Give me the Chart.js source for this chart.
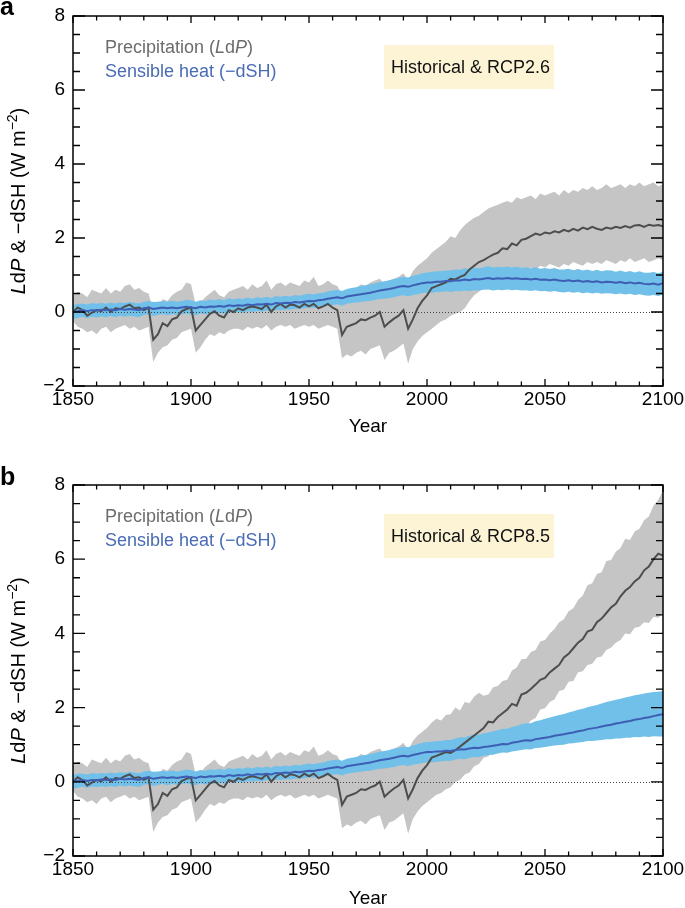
<!DOCTYPE html>
<html>
<head>
<meta charset="utf-8">
<script src="https://cdn.jsdelivr.net/npm/chart.js@4.4.1/dist/chart.umd.min.js"></script>
<style>
  body { margin: 0; background: #fff; }
  canvas { position: absolute; left: 0; }
</style>
</head>
<body>
<canvas id="chartA" width="685" height="454" style="top:0"></canvas>
<canvas id="chartB" width="685" height="454" style="top:454px"></canvas>
<script>
// years every 2 yr, 1850..2100 (historical up to 2004, scenario from 2006)
const years = [];
for (let y = 1850; y <= 2100; y += 2) years.push(y);

const yTicks = [-2, 0, 2, 4, 6, 8];
const xTicks = [1850, 1900, 1950, 2000, 2050, 2100];

// historical, shared by both panels (1850-2004)
const histP = [
  0.00, 0.12, 0.05, -0.10, -0.02, 0.05, 0.02, 0.12, 0.00, 0.10,
  0.08, 0.15, 0.20, 0.10, 0.12, 0.05, 0.12, -0.75, -0.60, -0.30,
  -0.38, -0.20, -0.15, 0.02, 0.08, 0.12, -0.50, -0.35, -0.20, -0.05,
  0.02, -0.10, -0.15, 0.05, 0.00, 0.10, 0.05, 0.12, 0.15, 0.12,
  0.08, 0.20, 0.00, 0.15, 0.22, 0.12, 0.20, 0.18, 0.12, 0.22,
  0.15, 0.22, 0.10, 0.15, 0.22, 0.12, 0.05, -0.62, -0.40, -0.35,
  -0.30, -0.20, -0.22, -0.15, -0.10, 0.00, -0.40, -0.28, -0.18, -0.10,
  0.05, -0.45, -0.20, 0.10, 0.30, 0.45, 0.65, 0.70
];
const histPHi = [
  0.45, 0.55, 0.50, 0.40, 0.60, 0.55, 0.50, 0.65, 0.50, 0.60,
  0.55, 0.70, 0.75, 0.60, 0.65, 0.55, 0.50, 0.05, 0.10, 0.35,
  0.30, 0.45, 0.55, 0.60, 0.80, 0.75, 0.20, 0.25, 0.40, 0.50,
  0.60, 0.45, 0.40, 0.55, 0.60, 0.65, 0.70, 0.60, 0.75, 0.65,
  0.70, 0.85, 0.60, 0.75, 0.80, 0.70, 0.80, 0.75, 0.70, 0.85,
  0.80, 0.95, 0.70, 0.75, 0.85, 0.75, 0.70, 0.45, 0.55, 0.60,
  0.65, 0.75, 0.70, 0.80, 0.85, 0.90, 0.75, 0.85, 0.90, 0.95,
  1.05, 0.85, 1.10, 1.25, 1.35, 1.45, 1.60, 1.70
];
const histPLo = [
  -0.25, -0.40, -0.45, -0.55, -0.50, -0.60, -0.45, -0.40, -0.55, -0.45,
  -0.40, -0.35, -0.45, -0.40, -0.50, -0.45, -0.40, -1.35, -1.10, -0.95,
  -0.90, -0.75, -0.70, -0.55, -0.50, -0.45, -1.10, -0.95, -0.75, -0.60,
  -0.65, -0.55, -0.60, -0.50, -0.45, -0.45, -0.50, -0.40, -0.45, -0.40,
  -0.45, -0.35, -0.50, -0.40, -0.35, -0.40, -0.35, -0.45, -0.40, -0.35,
  -0.40, -0.35, -0.45, -0.40, -0.35, -0.40, -0.45, -1.25, -1.15, -1.20,
  -1.10, -1.05, -1.15, -1.00, -0.95, -0.90, -1.30, -1.10, -1.05, -0.95,
  -0.85, -1.40, -1.00, -0.80, -0.65, -0.55, -0.45, -0.35
];
const histSH = [
  0.00, 0.02, 0.05, 0.02, 0.05, 0.04, 0.06, 0.05, 0.07, 0.05,
  0.08, 0.06, 0.08, 0.07, 0.05, 0.10, 0.12, 0.08, 0.10, 0.12,
  0.10, 0.12, 0.10, 0.12, 0.14, 0.12, 0.10, 0.14, 0.12, 0.15,
  0.14, 0.16, 0.14, 0.18, 0.16, 0.18, 0.17, 0.20, 0.18, 0.21,
  0.20, 0.22, 0.20, 0.24, 0.23, 0.25, 0.24, 0.27, 0.26, 0.28,
  0.30, 0.29, 0.32, 0.33, 0.36, 0.38, 0.40, 0.37, 0.42, 0.44,
  0.46, 0.48, 0.50, 0.52, 0.55, 0.58, 0.60, 0.62, 0.65, 0.68,
  0.70, 0.68, 0.72, 0.75, 0.78, 0.80, 0.80, 0.82
];
const histSHHi = [
  0.18, 0.22, 0.22, 0.20, 0.24, 0.22, 0.24, 0.22, 0.25, 0.23,
  0.26, 0.24, 0.27, 0.25, 0.23, 0.28, 0.30, 0.27, 0.28, 0.30,
  0.28, 0.31, 0.28, 0.30, 0.33, 0.31, 0.28, 0.32, 0.30, 0.34,
  0.32, 0.35, 0.32, 0.37, 0.34, 0.37, 0.35, 0.39, 0.36, 0.40,
  0.38, 0.41, 0.38, 0.43, 0.41, 0.44, 0.42, 0.46, 0.44, 0.47,
  0.49, 0.47, 0.51, 0.52, 0.56, 0.58, 0.60, 0.57, 0.62, 0.65,
  0.67, 0.70, 0.72, 0.75, 0.78, 0.81, 0.83, 0.86, 0.89, 0.92,
  0.95, 0.93, 0.98, 1.01, 1.05, 1.07, 1.08, 1.10
];
const histSHLo = [
  -0.18, -0.16, -0.13, -0.17, -0.13, -0.15, -0.12, -0.14, -0.11, -0.14,
  -0.10, -0.13, -0.10, -0.12, -0.14, -0.08, -0.06, -0.11, -0.08, -0.06,
  -0.09, -0.06, -0.08, -0.06, -0.04, -0.07, -0.09, -0.04, -0.07, -0.03,
  -0.05, -0.02, -0.05, 0.00, -0.03, 0.00, -0.02, 0.02, 0.00, 0.03,
  0.01, 0.04, 0.02, 0.06, 0.05, 0.07, 0.06, 0.09, 0.08, 0.10,
  0.12, 0.11, 0.14, 0.15, 0.17, 0.19, 0.21, 0.17, 0.22, 0.24,
  0.26, 0.27, 0.29, 0.30, 0.33, 0.35, 0.36, 0.38, 0.40, 0.43,
  0.45, 0.42, 0.46, 0.48, 0.51, 0.53, 0.52, 0.54
];

// RCP2.6 (2006-2100)
const rcp26P = [
  0.75, 0.80, 0.90, 0.88, 0.95, 1.00, 1.15, 1.25,
  1.35, 1.40, 1.48, 1.55, 1.60, 1.72, 1.70, 1.85,
  1.80, 1.95, 1.98, 2.05, 2.12, 2.08, 2.15, 2.12,
  2.18, 2.15, 2.22, 2.18, 2.25, 2.20, 2.28, 2.24,
  2.30, 2.25, 2.22, 2.28, 2.25, 2.30, 2.27, 2.32,
  2.28, 2.34, 2.35, 2.30, 2.36, 2.33, 2.35, 2.32
];
const rcp26PHi = [
  1.80, 1.90, 2.05, 2.00, 2.20, 2.35, 2.45, 2.55,
  2.60, 2.70, 2.80, 2.85, 2.90, 2.95, 3.00, 2.95,
  3.10, 3.05, 3.10, 3.15, 3.05, 3.20, 3.15, 3.20,
  3.25, 3.15, 3.30, 3.20, 3.30, 3.25, 3.35, 3.30,
  3.40, 3.30, 3.35, 3.45, 3.35, 3.40, 3.45, 3.35,
  3.45, 3.40, 3.50, 3.40, 3.45, 3.50, 3.40, 3.45
];
const rcp26PLo = [
  -0.25, -0.20, -0.10, -0.05, 0.00, 0.10, 0.30, 0.45,
  0.55, 0.65, 0.75, 0.85, 0.90, 0.95, 1.05, 1.10,
  1.05, 1.15, 1.10, 1.20, 1.15, 1.25, 1.20, 1.30,
  1.25, 1.20, 1.30, 1.25, 1.35, 1.30, 1.25, 1.35,
  1.30, 1.35, 1.30, 1.40, 1.35, 1.30, 1.40, 1.35,
  1.45, 1.35, 1.40, 1.45, 1.35, 1.40, 1.45, 1.40
];
const rcp26SH = [
  0.82, 0.84, 0.83, 0.86, 0.85, 0.88, 0.86, 0.89,
  0.88, 0.90, 0.92, 0.89, 0.91, 0.90, 0.92, 0.90,
  0.91, 0.89, 0.90, 0.88, 0.90, 0.87, 0.88, 0.86,
  0.88, 0.85, 0.84, 0.86, 0.83, 0.85, 0.82, 0.84,
  0.81, 0.83, 0.80, 0.82, 0.81, 0.79, 0.81, 0.78,
  0.80, 0.77, 0.79, 0.76, 0.75, 0.77, 0.74, 0.78
];
const rcp26SHHi = [
  1.10, 1.12, 1.12, 1.15, 1.14, 1.18, 1.16, 1.20,
  1.18, 1.21, 1.24, 1.20, 1.22, 1.21, 1.23, 1.20,
  1.22, 1.19, 1.21, 1.18, 1.21, 1.17, 1.19, 1.16,
  1.19, 1.15, 1.15, 1.17, 1.13, 1.16, 1.12, 1.15,
  1.11, 1.14, 1.10, 1.13, 1.12, 1.09, 1.12, 1.08,
  1.11, 1.07, 1.10, 1.06, 1.06, 1.08, 1.05, 1.09
];
const rcp26SHLo = [
  0.54, 0.56, 0.54, 0.57, 0.56, 0.58, 0.56, 0.59,
  0.58, 0.60, 0.61, 0.58, 0.60, 0.59, 0.61, 0.59,
  0.60, 0.58, 0.59, 0.57, 0.59, 0.56, 0.57, 0.55,
  0.57, 0.54, 0.53, 0.55, 0.52, 0.54, 0.51, 0.53,
  0.50, 0.52, 0.49, 0.51, 0.50, 0.48, 0.50, 0.47,
  0.49, 0.46, 0.48, 0.45, 0.44, 0.46, 0.43, 0.47
];

// RCP8.5 (2006-2100)
const rcp85P = [
  0.75, 0.80, 0.78, 0.85, 0.95, 1.05, 1.15, 1.25,
  1.35, 1.45, 1.62, 1.60, 1.75, 1.85, 1.95, 2.10,
  2.05, 2.35, 2.40, 2.50, 2.62, 2.75, 2.80, 2.95,
  3.05, 3.15, 3.35, 3.45, 3.60, 3.75, 3.85, 4.05,
  4.10, 4.30, 4.40, 4.55, 4.70, 4.80, 5.00, 5.15,
  5.25, 5.40, 5.50, 5.70, 5.80, 6.00, 6.15, 6.10
];
const rcp85PHi = [
  1.65, 1.80, 1.82, 2.00, 1.92, 2.15, 2.12, 2.30,
  2.40, 2.32, 2.35, 2.55, 2.58, 2.72, 2.75, 3.00,
  3.08, 3.30, 3.32, 3.50, 3.55, 3.78, 3.82, 4.00,
  4.12, 4.30, 4.38, 4.60, 4.68, 4.90, 5.02, 5.30,
  5.35, 5.60, 5.65, 5.95, 5.98, 6.20, 6.30, 6.55,
  6.52, 6.75, 6.82, 7.05, 7.15, 7.45, 7.60, 7.85
];
const rcp85PLo = [
  -0.30, -0.20, -0.15, 0.00, 0.05, 0.20, 0.25, 0.42,
  0.48, 0.65, 0.68, 0.85, 0.88, 1.05, 1.08, 1.25,
  1.28, 1.45, 1.48, 1.65, 1.72, 1.95, 1.98, 2.15,
  2.22, 2.45, 2.48, 2.70, 2.72, 2.95, 2.98, 3.15,
  3.18, 3.35, 3.38, 3.55, 3.62, 3.75, 3.82, 4.00,
  3.98, 4.15, 4.18, 4.30, 4.28, 4.45, 4.42, 4.55
];
const rcp85SH = [
  0.82, 0.84, 0.83, 0.86, 0.88, 0.87, 0.90, 0.92,
  0.91, 0.94, 0.95, 0.97, 0.99, 1.02, 1.01, 1.05,
  1.07, 1.10, 1.12, 1.11, 1.15, 1.17, 1.19, 1.21,
  1.24, 1.26, 1.28, 1.31, 1.33, 1.36, 1.38, 1.42,
  1.44, 1.46, 1.49, 1.52, 1.54, 1.57, 1.59, 1.62,
  1.64, 1.67, 1.69, 1.72, 1.74, 1.77, 1.80, 1.82
];
const rcp85SHHi = [
  1.10, 1.13, 1.13, 1.17, 1.20, 1.20, 1.24, 1.27,
  1.27, 1.31, 1.33, 1.36, 1.39, 1.43, 1.43, 1.48,
  1.51, 1.55, 1.58, 1.58, 1.63, 1.66, 1.70, 1.73,
  1.77, 1.80, 1.83, 1.87, 1.90, 1.94, 1.97, 2.01,
  2.04, 2.07, 2.11, 2.15, 2.18, 2.21, 2.24, 2.27,
  2.30, 2.33, 2.35, 2.38, 2.40, 2.42, 2.43, 2.45
];
const rcp85SHLo = [
  0.55, 0.57, 0.56, 0.60, 0.62, 0.61, 0.65, 0.67,
  0.66, 0.70, 0.72, 0.73, 0.76, 0.79, 0.78, 0.82,
  0.84, 0.86, 0.88, 0.87, 0.91, 0.92, 0.94, 0.96,
  0.98, 0.99, 1.00, 1.03, 1.04, 1.06, 1.07, 1.10,
  1.10, 1.11, 1.13, 1.15, 1.15, 1.17, 1.17, 1.19,
  1.19, 1.21, 1.20, 1.22, 1.21, 1.23, 1.22, 1.22
];

const FONT = "'Liberation Sans', Arial, Helvetica, sans-serif";
const grayBand = "#c5c5c5";
const grayLine = "#4d4d4d";
const blueBand = "#71c0e9";
const blueLine = "#3d5eb2";

const pts = (vals) => vals.map((v, i) => ({ x: years[i], y: v }));

// draw a run of text pieces, some italic / superscript
function richText(ctx, parts, x, y, size, color, align) {
  const fontFor = (p) =>
    (p.i ? "italic " : "") + (p.sup ? Math.round(size * 0.68) : size) + "px " + FONT;
  let total = 0;
  parts.forEach((p) => {
    ctx.font = fontFor(p);
    total += ctx.measureText(p.t).width;
  });
  let cx = align === "center" ? x - total / 2 : x;
  ctx.fillStyle = color;
  ctx.textAlign = "left";
  parts.forEach((p) => {
    ctx.font = fontFor(p);
    ctx.fillText(p.t, cx, p.sup ? y - size * 0.42 : y);
    cx += ctx.measureText(p.t).width;
  });
}

const decor = {
  id: "decor",
  afterDatasetsDraw(chart, args, opts) {
    const { ctx, chartArea: a, scales } = chart;
    const x = scales.x, y = scales.y;
    ctx.save();

    // dotted zero line
    const y0 = Math.round(y.getPixelForValue(0)) + 0.5;
    ctx.strokeStyle = "#444";
    ctx.lineWidth = 1;
    ctx.setLineDash([1, 2]);
    ctx.beginPath();
    ctx.moveTo(a.left, y0);
    ctx.lineTo(a.right, y0);
    ctx.stroke();
    ctx.setLineDash([]);

    // frame
    ctx.strokeStyle = "#000";
    ctx.lineWidth = 1.5;
    ctx.strokeRect(a.left, a.top, a.right - a.left, a.bottom - a.top);

    // inward ticks
    ctx.lineWidth = 1.3;
    ctx.beginPath();
    for (let v = -2; v <= 8; v += 0.5) {
      const py = y.getPixelForValue(v);
      const len = v % 2 === 0 ? 12 : 7;
      ctx.moveTo(a.left, py);
      ctx.lineTo(a.left + len, py);
      ctx.moveTo(a.right, py);
      ctx.lineTo(a.right - len, py);
    }
    for (let v = 1850; v <= 2100; v += 10) {
      const px = x.getPixelForValue(v);
      const len = v % 50 === 0 ? 7 : 4.5;
      ctx.moveTo(px, a.bottom);
      ctx.lineTo(px, a.bottom - len);
      ctx.moveTo(px, a.top);
      ctx.lineTo(px, a.top + len);
    }
    ctx.stroke();

    // legend text
    ctx.textBaseline = "alphabetic";
    richText(ctx, [{ t: "Precipitation (" }, { t: "L", i: 1 }, { t: "d" }, { t: "P", i: 1 }, { t: ")" }],
      105, a.top + 37, 18, "#6c6c6c", "left");
    richText(ctx, [{ t: "Sensible heat (\u2212dSH)" }], 105, a.top + 61, 18, "#4a6cb4", "left");

    // scenario box
    ctx.fillStyle = "#fcf4d5";
    ctx.fillRect(384, a.top + 29, 170, 44);
    richText(ctx, [{ t: opts.scenario }], 391, a.top + 57, 18, "#111", "left");

    // panel letter
    ctx.font = "bold 25px " + FONT;
    ctx.fillStyle = "#000";
    ctx.textAlign = "left";
    ctx.fillText(opts.tag, 0, a.top + opts.tagDy);

    // x title
    richText(ctx, [{ t: "Year" }], (a.left + a.right) / 2, a.bottom + opts.yearDy, 19, "#000", "center");

    // y title, rotated
    ctx.translate(25, (a.top + a.bottom) / 2);
    ctx.rotate(-Math.PI / 2);
    richText(ctx,
      [{ t: "L", i: 1 }, { t: "d" }, { t: "P", i: 1 }, { t: " & \u2212dSH (W m" }, { t: "\u22122", sup: 1 }, { t: ")" }],
      0, 0, 20, "#000", "center");
    ctx.restore();
  },
};

function makePanel(id, P, PHi, PLo, SH, SHHi, SHLo, opts) {
  const lineStyle = { pointRadius: 0, tension: 0, fill: false };
  const bandStyle = { pointRadius: 0, tension: 0, borderWidth: 0 };
  new Chart(document.getElementById(id), {
    type: "line",
    data: {
      datasets: [
        { ...lineStyle, label: "SH", data: pts(SH), borderColor: blueLine, borderWidth: 2 },
        { ...lineStyle, label: "P", data: pts(P), borderColor: grayLine, borderWidth: 2 },
        { ...bandStyle, label: "SH hi", data: pts(SHHi), fill: "+1", backgroundColor: blueBand },
        { ...bandStyle, label: "SH lo", data: pts(SHLo), fill: false },
        { ...bandStyle, label: "P hi", data: pts(PHi), fill: "+1", backgroundColor: grayBand },
        { ...bandStyle, label: "P lo", data: pts(PLo), fill: false },
      ],
    },
    options: {
      responsive: false,
      animation: false,
      devicePixelRatio: 1,
      layout: { padding: { top: opts.top, right: 22, left: 0, bottom: 0 } },
      plugins: {
        legend: { display: false },
        tooltip: { enabled: false },
        decor: opts,
      },
      scales: {
        x: {
          type: "linear",
          min: 1850,
          max: 2100,
          grid: { display: false, drawTicks: false },
          border: { display: false },
          afterFit: (s) => {
            s.height = opts.xHeight;
            s.paddingLeft = 0;
            s.paddingRight = 0;
          },
          afterBuildTicks: (s) => { s.ticks = xTicks.map((v) => ({ value: v })); },
          ticks: {
            padding: 2,
            maxRotation: 0,
            autoSkip: false,
            color: "#000",
            font: { family: FONT, size: 19 },
            callback: (v) => String(v),
          },
        },
        y: {
          min: -2,
          max: 8,
          grid: { display: false, drawTicks: false },
          border: { display: false },
          afterFit: (s) => {
            s.width = 73;
            s.paddingTop = 0;
            s.paddingBottom = 0;
          },
          afterBuildTicks: (s) => { s.ticks = yTicks.map((v) => ({ value: v })); },
          ticks: {
            padding: 8,
            autoSkip: false,
            color: "#000",
            font: { family: FONT, size: 19 },
            callback: (v) => (v < 0 ? "\u2212" + Math.abs(v) : String(v)),
          },
        },
      },
    },
    plugins: [decor],
  });
}

makePanel("chartA",
  histP.concat(rcp26P), histPHi.concat(rcp26PHi), histPLo.concat(rcp26PLo),
  histSH.concat(rcp26SH), histSHHi.concat(rcp26SHHi), histSHLo.concat(rcp26SHLo),
  { scenario: "Historical & RCP2.6", tag: "a", tagDy: -1, top: 16, xHeight: 68, yearDy: 46 });

makePanel("chartB",
  histP.concat(rcp85P), histPHi.concat(rcp85PHi), histPLo.concat(rcp85PLo),
  histSH.concat(rcp85SH), histSHHi.concat(rcp85SHHi), histSHLo.concat(rcp85SHLo),
  { scenario: "Historical & RCP8.5", tag: "b", tagDy: 0, top: 31, xHeight: 52, yearDy: 48 });
</script>
</body>
</html>
